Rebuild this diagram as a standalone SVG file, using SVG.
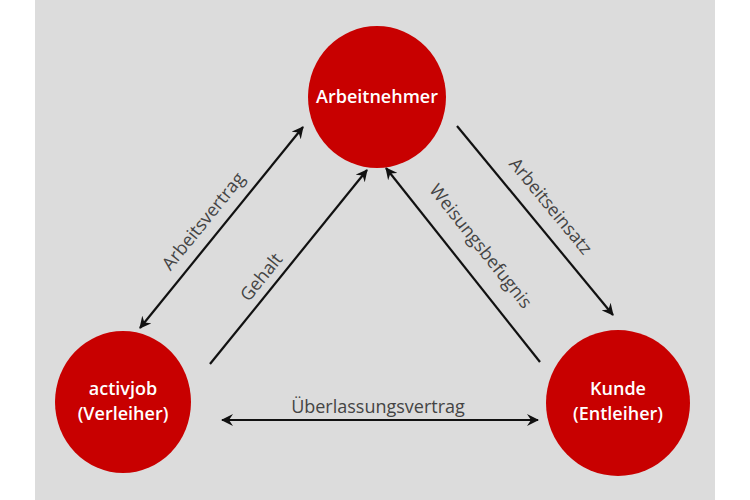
<svg xmlns="http://www.w3.org/2000/svg" width="750" height="500" viewBox="0 0 750 500">
<defs>
<marker id="ah" viewBox="0 0 12 12" refX="11" refY="6" markerWidth="12" markerHeight="12" markerUnits="userSpaceOnUse" orient="auto-start-reverse">
<path d="M0,0 L12,6 L0,12 L4,6 Z" fill="#111"/>
</marker>
<style>
.n{fill:#c80000}
.nt{font-family:"Open Sans","DejaVu Sans",sans-serif;font-size:18px;font-weight:600;fill:#fff;text-anchor:middle}
.c{stroke:#111;stroke-width:2.2;fill:none}
.l{font-family:"Open Sans","DejaVu Sans",sans-serif;font-size:18px;fill:#444;text-anchor:middle}
</style>
</defs>
<rect width="750" height="500" fill="#fff"/>
<rect x="35" y="0" width="680" height="500" fill="#dcdcdc"/>
<g id="connectors">
<line class="c" x1="140" y1="328" x2="303" y2="127" marker-start="url(#ah)" marker-end="url(#ah)"/>
<line class="c" x1="210" y1="364" x2="367" y2="170" marker-end="url(#ah)"/>
<line class="c" x1="540" y1="362" x2="386" y2="168" marker-end="url(#ah)"/>
<line class="c" x1="457" y1="126" x2="613" y2="315" marker-end="url(#ah)"/>
<line class="c" x1="222" y1="420" x2="538" y2="420" marker-start="url(#ah)" marker-end="url(#ah)"/>
<text class="l" transform="translate(208,225) rotate(-51)">Arbeitsvertrag</text>
<text class="l" transform="translate(266,281) rotate(-51)">Gehalt</text>
<text class="l" transform="translate(476,250) rotate(51.5)">Weisungsbefugnis</text>
<text class="l" transform="translate(546,210) rotate(50.5)">Arbeitseinsatz</text>
<text class="l" x="378" y="413">Überlassungsvertrag</text>
</g>
<g id="arbeitnehmer"><ellipse class="n" cx="377" cy="97" rx="69" ry="71"/><text class="nt" x="377" y="103">Arbeitnehmer</text></g>
<g id="activjob"><ellipse class="n" cx="123" cy="402" rx="68" ry="71"/><text class="nt" x="123" y="395">activjob</text><text class="nt" x="123" y="420">(Verleiher)</text></g>
<g id="kunde"><ellipse class="n" cx="618" cy="403" rx="72" ry="73"/><text class="nt" x="618" y="395">Kunde</text><text class="nt" x="618" y="420">(Entleiher)</text></g>
</svg>
